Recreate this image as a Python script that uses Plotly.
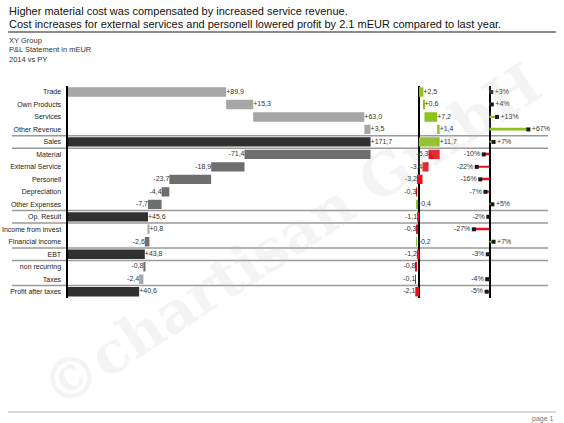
import plotly.graph_objects as go

W, H = 564, 423

# P&L rows, top to bottom
rows = ["Trade", "Own Products", "Services", "Other Revenue", "Sales",
        "Material", "External Service", "Personell", "Depreciation", "Other Expenses",
        "Op. Result", "Income from invest", "Financial income", "EBT",
        "non recurring", "Taxes", "Profit after taxes"]
kinds = ["rev", "rev", "rev", "rev", "total",
         "cost", "cost", "cost", "cost", "cost",
         "total", "rev", "cost", "total",
         "cost", "tax", "total"]
actual = [89.9, 15.3, 63.0, 3.5, 171.7,
          -71.4, -18.9, -23.7, -4.4, -7.7,
          45.6, 0.8, -2.6, 43.8,
          -0.8, -2.4, 40.6]
delta_py = [2.5, 0.6, 7.2, 1.4, 11.7,
            -6.3, -3.4, -3.2, -0.3, 0.4,
            -1.1, -0.3, 0.2, -1.2,
            -0.8, -0.1, -2.1]
delta_pct = [3, 4, 13, 67, 7,
             -10, -22, -16, -7, 5,
             -2, -27, 7, -3,
             None, -4, -5]
separators = [3.5, 4.5, 9.5, 10.5, 12.5, 13.5, 15.5]

GREEN = "#8DC21F"
RED = "#E8101A"
GRAY_COLORS = {"rev": "#A6A6A6", "tax": "#A6A6A6", "cost": "#6E6E6E", "total": "#303030"}
FONT = "Arial, Liberation Sans, sans-serif"
SCALE = 1.765  # px per mEUR, same in both waterfalls
PCT_SCALE = 0.58  # px per percent


def waterfall(values, kinds):
    starts, ends = [], []
    run = 0.0
    for v, k in zip(values, kinds):
        if k == "total":
            starts.append(0.0)
            ends.append(v)
            run = v
        else:
            starts.append(run)
            run += v
            ends.append(run)
    return starts, ends


def fmt(v):
    return f"{v:+.1f}".replace(".", ",")


def label_pos(values, starts, ends):
    xs, pos = [], []
    for v, s, e in zip(values, starts, ends):
        if v >= 0:
            xs.append(max(s, e))
            pos.append("middle right")
        else:
            xs.append(min(s, e))
            pos.append("middle left")
    return xs, pos


fig = go.Figure()

# main waterfall
a_start, a_end = waterfall(actual, kinds)
fig.add_trace(go.Bar(
    y=rows, x=[e - s for s, e in zip(a_start, a_end)], base=a_start,
    orientation="h", width=0.75,
    marker=dict(color=[GRAY_COLORS[k] for k in kinds], line=dict(width=0)),
    xaxis="x", yaxis="y", hoverinfo="skip"))
lx, lp = label_pos(actual, a_start, a_end)
fig.add_trace(go.Scatter(
    y=rows, x=lx, mode="text", text=[fmt(v) for v in actual], textposition=lp,
    textfont=dict(size=7, color="#333333", family=FONT), cliponaxis=False,
    xaxis="x", yaxis="y", hoverinfo="skip"))

# delta PY waterfall
d_start, d_end = waterfall(delta_py, kinds)
fig.add_trace(go.Bar(
    y=rows, x=[e - s for s, e in zip(d_start, d_end)], base=d_start,
    orientation="h", width=0.75,
    marker=dict(color=[GREEN if v >= 0 else RED for v in delta_py], line=dict(width=0)),
    xaxis="x2", yaxis="y", hoverinfo="skip"))
lx, lp = label_pos(delta_py, d_start, d_end)
fig.add_trace(go.Scatter(
    y=rows, x=lx, mode="text", text=[fmt(v) for v in delta_py], textposition=lp,
    textfont=dict(size=7, color="#333333", family=FONT), cliponaxis=False,
    xaxis="x2", yaxis="y", hoverinfo="skip"))

# delta % pins
pct_rows = [r for r, p in zip(rows, delta_pct) if p is not None]
pct_vals = [p for p in delta_pct if p is not None]
fig.add_trace(go.Bar(
    y=pct_rows, x=pct_vals, orientation="h", width=0.15,
    marker=dict(color=[GREEN if p >= 0 else RED for p in pct_vals], line=dict(width=0)),
    xaxis="x3", yaxis="y", hoverinfo="skip"))
fig.add_trace(go.Scatter(
    y=pct_rows, x=pct_vals, mode="markers+text",
    marker=dict(symbol="square", size=4, color="#1a1a1a"),
    text=[f"{p:+d}%" for p in pct_vals],
    textposition=["middle right" if p >= 0 else "middle left" for p in pct_vals],
    textfont=dict(size=7, color="#333333", family=FONT), cliponaxis=False,
    xaxis="x3", yaxis="y", hoverinfo="skip"))

# separators between blocks
for s in separators:
    fig.add_shape(type="line", xref="paper", yref="y", x0=12 / W, x1=548 / W, y0=s, y1=s,
                  line=dict(color="#9a9a9a", width=1.5), layer="below")

# title, header and footer rules
fig.add_shape(type="line", xref="paper", yref="paper", x0=8 / W, x1=556 / W,
              y0=1 - 32 / H, y1=1 - 32 / H, line=dict(color="#8c8c8c", width=2))
fig.add_shape(type="line", xref="paper", yref="paper", x0=8 / W, x1=556 / W,
              y0=1 - 412 / H, y1=1 - 412 / H, line=dict(color="#c8c8c8", width=1.5))

titles = ["Higher material cost was compensated by increased service revenue.",
          "Cost increases for external services and personell lowered profit by 2.1 mEUR compared to last year."]
for i, t in enumerate(titles):
    fig.add_annotation(text=t, xref="paper", yref="paper", x=7 / W, y=1 - (11 + 13 * i) / H,
                       xanchor="left", yanchor="middle", showarrow=False,
                       font=dict(size=11, color="#111111", family=FONT))
subtitles = ["XY Group", "P&L Statement in mEUR", "2014 vs PY"]
for i, t in enumerate(subtitles):
    fig.add_annotation(text=t, xref="paper", yref="paper", x=7 / W, y=1 - (40 + 10 * i) / H,
                       xanchor="left", yanchor="middle", showarrow=False,
                       font=dict(size=7.5, color="#333333", family=FONT))
fig.add_annotation(text="page 1", xref="paper", yref="paper", x=556 / W, y=1 - 419 / H,
                   xanchor="right", yanchor="middle", showarrow=False,
                   font=dict(size=7, color="#777777", family=FONT))

# watermark
fig.add_annotation(text="<b>©chartisan GmbH</b>", xref="paper", yref="paper",
                   x=290 / W, y=1 - 235 / H, xanchor="center", yanchor="middle",
                   textangle=-33, showarrow=False,
                   font=dict(size=57, color="rgba(190,190,190,0.17)", family="DejaVu Serif"))

y_top = 1 - 85.76 / H
y_bot = 1 - 297.94 / H
hidden = dict(showgrid=False, showticklabels=False, ticks="", fixedrange=True)

fig.update_layout(
    width=W, height=H, margin=dict(l=0, r=0, t=0, b=0),
    paper_bgcolor="white", plot_bgcolor="rgba(0,0,0,0)",
    showlegend=False, barmode="overlay",
    xaxis=dict(domain=[67.5 / W, 385 / W], range=[0, (385 - 67.5) / SCALE],
               zeroline=False, anchor="y", **hidden),
    xaxis2=dict(domain=[395 / W, 455 / W], range=[-(419 - 395) / SCALE, (455 - 419) / SCALE],
                zeroline=True, zerolinecolor="black", zerolinewidth=2, anchor="y", **hidden),
    xaxis3=dict(domain=[450 / W, 548 / W],
                range=[-(489.5 - 450) / PCT_SCALE, (548 - 489.5) / PCT_SCALE],
                zeroline=True, zerolinecolor="black", zerolinewidth=2, anchor="y", **hidden),
    yaxis=dict(domain=[y_bot, y_top], type="category", categoryarray=rows,
               range=[len(rows) - 0.5, -0.5], anchor="x",
               showline=True, linecolor="black", linewidth=2, showgrid=False,
               ticks="", ticklabelstandoff=3,
               tickfont=dict(size=7, color="#222222", family=FONT)),
)

fig.write_html("out.html", config={"displayModeBar": False},
               post_script="document.body.style.margin='0';")
